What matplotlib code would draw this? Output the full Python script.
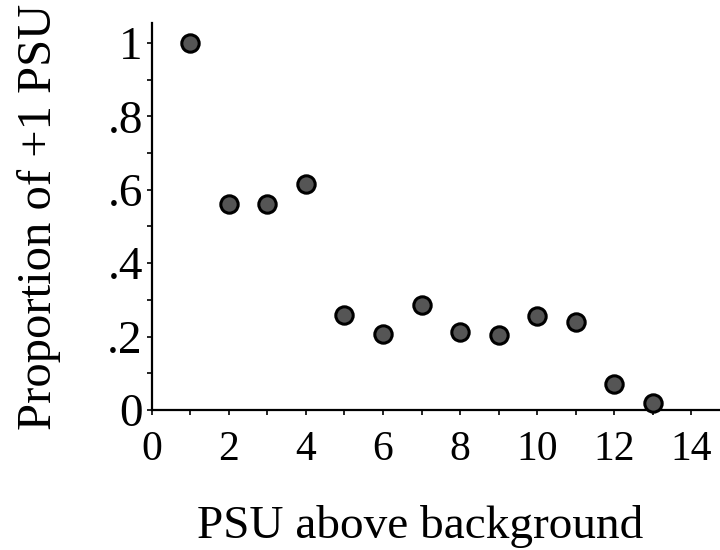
import matplotlib
matplotlib.use("Agg")
import matplotlib.pyplot as plt
from matplotlib.ticker import MultipleLocator, FixedLocator

plt.rcParams["font.family"] = ["Liberation Serif", "DejaVu Serif"]

# PSU above background vs proportion of +1 PSU
psu = [1, 2, 3, 4, 5, 6, 7, 8, 9, 10, 11, 12, 13]
proportion = [1.0, 0.56, 0.56, 0.615, 0.26, 0.207, 0.287, 0.212, 0.205, 0.256, 0.239, 0.07, 0.02]

x_ticks = [0, 2, 4, 6, 8, 10, 12, 14]
x_minor = list(range(0, 15))
y_ticks = [0, 0.2, 0.4, 0.6, 0.8, 1.0]
y_labels = ["0", ".2", ".4", ".6", ".8", "1"]

fig = plt.figure(figsize=(7.2, 5.5), dpi=100)
ax = fig.add_axes([0.211, 0.2545, 0.789, 0.7036])

ax.plot(psu, proportion, "o", markersize=12.5, markerfacecolor="#555555",
        markeredgecolor="black", markeredgewidth=2.2, clip_on=False, zorder=3)

ax.set_xlim(0, 14.75)
ax.set_ylim(0, 1.054)

for side in ("top", "right"):
    ax.spines[side].set_visible(False)
for side in ("left", "bottom"):
    ax.spines[side].set_linewidth(1.6)

ax.xaxis.set_major_locator(FixedLocator(x_ticks))
ax.xaxis.set_minor_locator(FixedLocator(x_minor))
ax.yaxis.set_major_locator(FixedLocator(y_ticks))
ax.yaxis.set_minor_locator(MultipleLocator(0.1))
ax.set_yticklabels(y_labels)

ax.tick_params(axis="both", which="both", direction="out", length=3.5, width=1.2)
ax.tick_params(axis="x", which="major", pad=11, labelsize=30)
ax.tick_params(axis="y", which="major", pad=3, labelsize=34)

ax.set_xlabel("PSU above background", fontsize=34)
ax.xaxis.set_label_coords(0.472, -0.245)
ax.set_ylabel("Proportion of +1 PSU", fontsize=35)
ax.yaxis.set_label_coords(-0.16, 0.5)

fig.savefig("out.png", dpi=100)
